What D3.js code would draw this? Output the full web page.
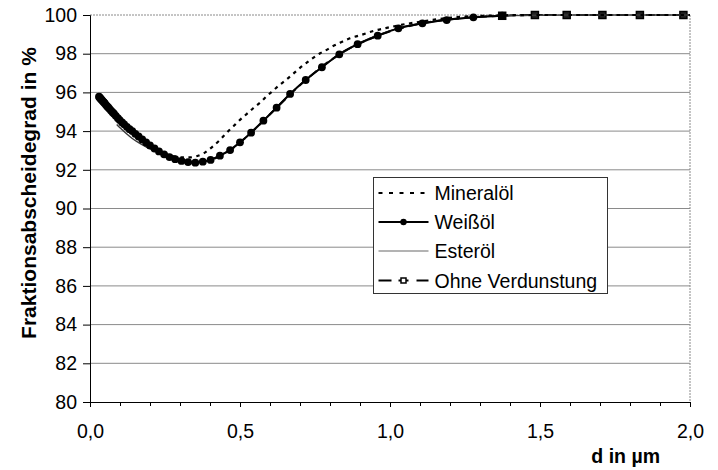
<!DOCTYPE html>
<html>
<head>
<meta charset="utf-8">
<script src="https://cdn.jsdelivr.net/npm/d3@7"></script>
<style>
  html, body { margin: 0; padding: 0; background: #fff; }
  svg { display: block; font-family: "Liberation Sans", Arial, sans-serif; }
</style>
</head>
<body>
<svg id="chart" width="718" height="470"></svg>
<script>
// Particle diameter d in µm and fractional separation efficiency in %
const weissoelX = [0.030, 0.032, 0.035, 0.037, 0.040, 0.043, 0.046, 0.049, 0.053, 0.057,
  0.061, 0.065, 0.070, 0.075, 0.080, 0.086, 0.093, 0.099, 0.107, 0.114,
  0.123, 0.132, 0.141, 0.151, 0.162, 0.174, 0.187, 0.200, 0.215, 0.230,
  0.247, 0.265, 0.284, 0.305, 0.327, 0.351, 0.376, 0.402, 0.433, 0.467,
  0.500, 0.537, 0.578, 0.622, 0.667, 0.719, 0.773, 0.831, 0.892, 0.959,
  1.028, 1.108, 1.189, 1.278, 1.374];
const weissoelY = [95.78, 95.74, 95.69, 95.65, 95.60, 95.54, 95.49, 95.44, 95.36, 95.29,
  95.22, 95.15, 95.06, 94.98, 94.90, 94.79, 94.67, 94.57, 94.45, 94.35,
  94.22, 94.10, 94.00, 93.86, 93.72, 93.57, 93.41, 93.26, 93.10, 92.95,
  92.80, 92.66, 92.55, 92.46, 92.40, 92.37, 92.42, 92.51, 92.73, 93.02,
  93.42, 93.92, 94.54, 95.21, 95.92, 96.64, 97.30, 97.97, 98.49, 98.93,
  99.31, 99.57, 99.74, 99.88, 99.96];

const ohneX = [0.030, 0.040, 0.053, 0.070, 0.093, 0.123, 0.162, 0.215, 0.284, 0.351,
  0.402, 0.467, 0.537, 0.622, 0.719, 0.831, 0.959, 1.108, 1.278, 1.374,
  1.483, 1.589, 1.708, 1.833, 1.978];
const ohneY = [95.78, 95.60, 95.36, 95.06, 94.67, 94.22, 93.72, 93.10, 92.55, 92.37,
  92.51, 93.02, 93.92, 95.21, 96.64, 97.97, 98.93, 99.57, 99.88, 99.96,
  100.00, 100.00, 100.00, 100.00, 100.00];
// only these squares are shown; the others sit under the Weißöl markers
const ohneMarkX = [1.374, 1.483, 1.589, 1.708, 1.833, 1.978];

const esteroelX = [0.089, 0.100, 0.117, 0.141, 0.162, 0.187, 0.215, 0.247, 0.284, 0.327,
  0.376, 0.433, 0.500, 0.578, 0.667, 0.773, 0.892, 1.028, 1.189, 1.374,
  1.589, 1.833, 2.000];
const esteroelY = [94.34, 94.17, 93.93, 93.62, 93.40, 93.18, 92.98, 92.75, 92.55, 92.41,
  92.43, 92.74, 93.43, 94.55, 95.93, 97.31, 98.50, 99.32, 99.75, 99.96,
  100.00, 100.00, 100.00];

const mineraloelX = [0.030, 0.050, 0.080, 0.107, 0.141, 0.174, 0.215, 0.247, 0.284, 0.305,
  0.330, 0.355, 0.380, 0.405, 0.433, 0.456, 0.478, 0.500, 0.522, 0.544,
  0.567, 0.589, 0.611, 0.633, 0.656, 0.678, 0.700, 0.722, 0.744, 0.767,
  0.789, 0.806, 0.833, 0.867, 0.900, 0.944, 1.000, 1.033, 1.067, 1.100,
  1.167, 1.233, 1.300, 1.400, 1.500, 1.750, 2.000];
const mineraloelY = [95.80, 95.44, 94.92, 94.47, 94.02, 93.59, 93.13, 92.85, 92.68, 92.64,
  92.64, 92.70, 92.86, 93.15, 93.54, 93.92, 94.25, 94.58, 94.88, 95.18,
  95.47, 95.80, 96.10, 96.40, 96.68, 96.97, 97.27, 97.53, 97.78, 98.02,
  98.20, 98.36, 98.56, 98.80, 98.95, 99.17, 99.37, 99.48, 99.57, 99.65,
  99.80, 99.90, 99.95, 99.99, 100.00, 100.00, 100.00];

const xMajorTicks = [0.0, 0.5, 1.0, 1.5, 2.0];
const xMinorTicks = [0.1, 0.2, 0.3, 0.4, 0.6, 0.7, 0.8, 0.9, 1.1, 1.2, 1.3, 1.4, 1.6, 1.7, 1.8, 1.9];
const yTicks = [80, 82, 84, 86, 88, 90, 92, 94, 96, 98, 100];
const legendLabels = ["Mineralöl", "Weißöl", "Esteröl", "Ohne Verdunstung"];
const xTitle = "d in µm";
const yTitle = "Fraktionsabscheidegrad in %";

const svg = d3.select("#chart");
const plot = { left: 90, right: 690, top: 15, bottom: 402 };

const x = d3.scaleLinear().domain([0, 2]).range([plot.left, plot.right]);
const y = d3.scaleLinear().domain([80, 100]).range([plot.bottom, plot.top]);

const FONT = 19.5;

// horizontal gridlines
svg.append("g")
  .selectAll("line")
  .data(yTicks.filter(v => v > 80 && v < 100))
  .join("line")
  .attr("x1", plot.left).attr("x2", plot.right)
  .attr("y1", d => y(d)).attr("y2", d => y(d))
  .attr("stroke", "#8a8a8a").attr("stroke-width", 1);

// dotted frame on top and right
svg.append("path")
  .attr("d", `M${plot.left},${y(100)}H${plot.right}V${plot.bottom}`)
  .attr("fill", "none")
  .attr("stroke", "#8a8a8a")
  .attr("stroke-width", 1)
  .attr("stroke-dasharray", "2,1");

// y axis
const yAxis = d3.axisLeft(y).tickValues(yTicks).tickSize(7).tickPadding(6).tickFormat(d3.format("d"));
const gy = svg.append("g").attr("transform", `translate(${plot.left},0)`).call(yAxis);
gy.select(".domain").attr("stroke", "#000");
gy.selectAll(".tick line").attr("stroke", "#000");
gy.selectAll("text").attr("font-size", FONT).attr("fill", "#000")
  .attr("font-family", "Liberation Sans, Arial, sans-serif");

// x axis with minor ticks
const fmtX = v => d3.format(".1f")(v).replace(".", ",");
const xAxis = d3.axisBottom(x).tickValues(xMajorTicks).tickSize(5).tickPadding(17).tickFormat(fmtX);
const gx = svg.append("g").attr("transform", `translate(0,${plot.bottom})`).call(xAxis);
gx.select(".domain").attr("stroke", "#000");
gx.selectAll(".tick line").attr("stroke", "#000");
gx.selectAll("text").attr("font-size", FONT).attr("fill", "#000")
  .attr("font-family", "Liberation Sans, Arial, sans-serif");
const xMinor = d3.axisBottom(x).tickValues(xMinorTicks).tickSize(4).tickFormat("");
const gxm = svg.append("g").attr("transform", `translate(0,${plot.bottom})`).call(xMinor);
gxm.select(".domain").remove();
gxm.selectAll(".tick line").attr("stroke", "#000");

// axis titles
svg.append("text")
  .attr("x", 660).attr("y", 463)
  .attr("text-anchor", "end")
  .attr("font-size", FONT).attr("font-weight", "bold")
  .text(xTitle);
svg.append("text")
  .attr("transform", `translate(36,${193}) rotate(-90)`)
  .attr("text-anchor", "middle")
  .attr("font-size", 21).attr("font-weight", "bold")
  .text(yTitle);

const zip = (xs, ys) => xs.map((v, i) => [v, ys[i]]);
const line = d3.line().x(d => x(d[0])).y(d => y(d[1])).curve(d3.curveMonotoneX);

const ohne = zip(ohneX, ohneY);
const ester = zip(esteroelX, esteroelY);
const mineral = zip(mineraloelX, mineraloelY);
const weiss = zip(weissoelX, weissoelY);

// Ohne Verdunstung: long dashes with square markers
svg.append("path").datum(ohne)
  .attr("d", line).attr("fill", "none")
  .attr("stroke", "#000").attr("stroke-width", 2)
  .attr("stroke-dasharray", "9,5");
svg.append("g").selectAll("rect")
  .data(ohne.filter(d => ohneMarkX.includes(d[0])))
  .join("rect")
  .attr("x", d => x(d[0]) - 3.5).attr("y", d => y(d[1]) - 3.5)
  .attr("width", 7).attr("height", 7)
  .attr("fill", "#222").attr("stroke", "#000").attr("stroke-width", 1.5);

// Esteröl: thin grey line
svg.append("path").datum(ester)
  .attr("d", line).attr("fill", "none")
  .attr("stroke", "#3a3a3a").attr("stroke-width", 1.4);

// Mineralöl: dotted line
svg.append("path").datum(mineral)
  .attr("d", line).attr("fill", "none")
  .attr("stroke", "#000").attr("stroke-width", 2.2)
  .attr("stroke-dasharray", "3.5,4.5");

// Weißöl: solid line with filled dots
svg.append("path").datum(weiss)
  .attr("d", line).attr("fill", "none")
  .attr("stroke", "#000").attr("stroke-width", 2);
svg.append("g").selectAll("circle")
  .data(weiss)
  .join("circle")
  .attr("cx", d => x(d[0])).attr("cy", d => y(d[1]))
  .attr("r", 3.9).attr("fill", "#000");

// legend
const lg = svg.append("g").attr("transform", "translate(373.5,177.5)");
lg.append("rect")
  .attr("width", 234).attr("height", 116)
  .attr("fill", "#fff").attr("stroke", "#333").attr("stroke-width", 1);
const rowY = [15.5, 44.5, 73.5, 103];
const sx0 = 5, sx1 = 55, tx = 61;
const sxm = (sx0 + sx1) / 2;
legendLabels.forEach((label, i) => {
  const row = lg.append("g").attr("transform", `translate(0,${rowY[i]})`);
  if (i === 0) {
    row.append("line").attr("x1", sx0).attr("x2", sx1)
      .attr("stroke", "#000").attr("stroke-width", 2.2).attr("stroke-dasharray", "4,6.5");
  } else if (i === 1) {
    row.append("line").attr("x1", sx0).attr("x2", sx1)
      .attr("stroke", "#000").attr("stroke-width", 2);
    row.append("circle").attr("cx", sxm).attr("r", 3.2).attr("fill", "#000");
  } else if (i === 2) {
    row.append("line").attr("x1", sx0).attr("x2", sx1)
      .attr("stroke", "#9a9a9a").attr("stroke-width", 1.6);
  } else {
    row.append("line").attr("x1", sx0).attr("x2", sx0 + 13)
      .attr("stroke", "#000").attr("stroke-width", 2);
    row.append("line").attr("x1", sxm - 5).attr("x2", sxm + 5)
      .attr("stroke", "#000").attr("stroke-width", 2);
    row.append("line").attr("x1", sx1 - 12).attr("x2", sx1)
      .attr("stroke", "#000").attr("stroke-width", 2);
    row.append("rect").attr("x", sxm - 2.5).attr("y", -2.5)
      .attr("width", 5).attr("height", 5)
      .attr("fill", "#fff").attr("stroke", "#000").attr("stroke-width", 1.5);
  }
  row.append("text")
    .attr("x", tx).attr("y", 0).attr("dy", "0.36em")
    .attr("font-size", FONT)
    .text(label);
});
</script>
</body>
</html>
